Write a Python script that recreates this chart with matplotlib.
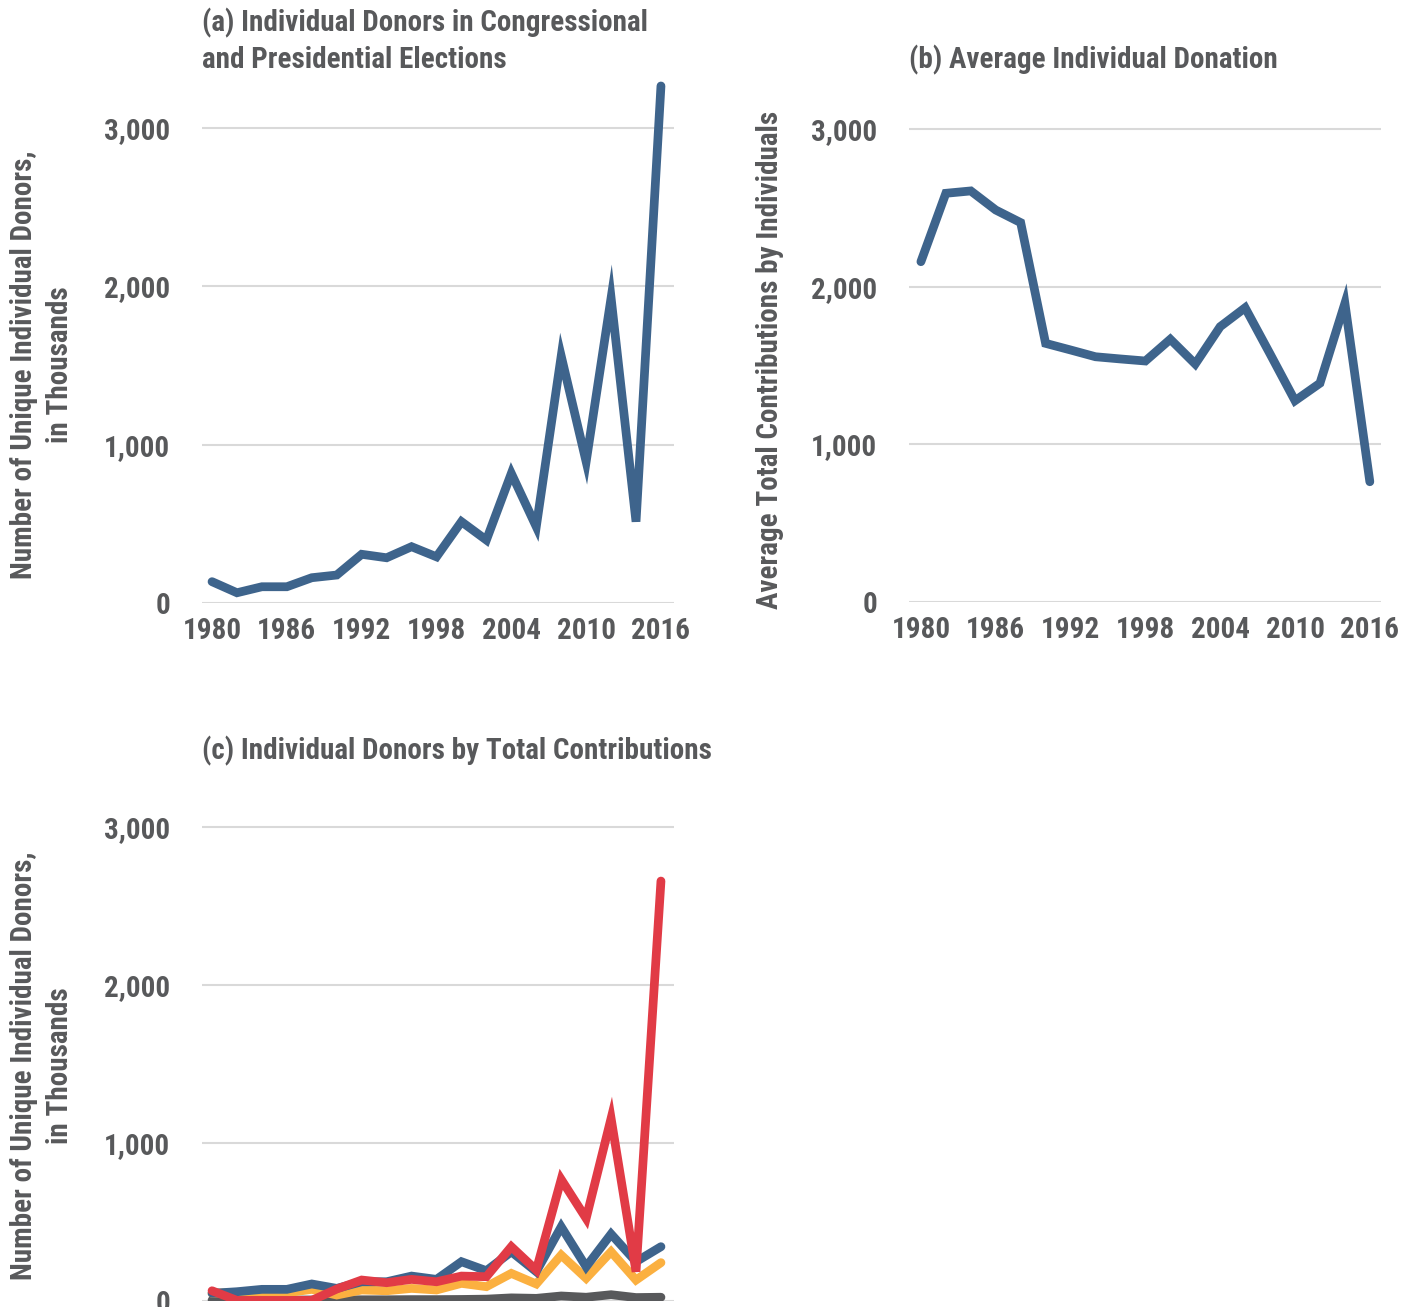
import matplotlib
matplotlib.use("Agg")
import matplotlib.pyplot as plt
from matplotlib import font_manager
from matplotlib.ticker import FuncFormatter

years = list(range(1980, 2017, 2))

# (a) unique individual donors, thousands
donors_total = [135, 65, 103, 103, 160, 177, 308, 286, 356, 292,
                514, 398, 819, 482, 1560, 893, 1927, 514, 3266]

# (b) average total contributions by individuals
avg_donation = [2159, 2593, 2608, 2487, 2407, 1641, 1599, 1556, 1542, 1529,
                1667, 1510, 1747, 1867, 1574, 1277, 1388, 1895, 763]

# (c) donors split by size of total contributions
donors_blue = [47, 57, 72, 72, 106, 78, 120, 120, 156, 135,
               247, 190, 310, 184, 468, 215, 422, 247, 342]
donors_orange = [47, 53, 53, 50, 72, 36, 68, 63, 78, 68,
                 110, 89, 173, 106, 289, 142, 310, 131, 241]
donors_red = [63, 2, 2, 2, 2, 74, 131, 114, 135, 120,
              156, 152, 342, 194, 768, 521, 1154, 184, 2656]
donors_gray = [3, 3, 4, 4, 5, 5, 6, 6, 7, 7,
               8, 10, 18, 15, 30, 22, 38, 20, 22]

xticks = [1980, 1986, 1992, 1998, 2004, 2010, 2016]
yticks = [0, 1000, 2000, 3000]

BLUE = "#3e648c"
ORANGE = "#fbb040"
RED = "#e13b46"
DARK = "#58595b"
TXT = "#58595b"
GRID = "#d9d9d9"

installed = {f.name for f in font_manager.fontManager.ttflist}
font = "DejaVu Sans"
for name in ["Liberation Sans Narrow", "DejaVu Sans Condensed", "Roboto Condensed", "Liberation Sans"]:
    if name in installed:
        font = name
        break
plt.rcParams["font.family"] = [font, "DejaVu Sans"]
plt.rcParams["font.weight"] = "bold"

FS = 21
LW = 6.3

fig = plt.figure(figsize=(14.14, 13.07), dpi=100)

line_kw = dict(lw=LW, solid_capstyle="round", solid_joinstyle="miter")


def style(ax, show_x=True):
    ax.set_xlim(1979.2, 2017.05)
    ax.set_ylim(0, 3350)
    ax.set_yticks(yticks)
    ax.set_xticks(xticks)
    ax.yaxis.set_major_formatter(FuncFormatter(lambda v, p: f"{int(v):,}"))
    ax.grid(axis="y", color=GRID, lw=1.5)
    ax.set_axisbelow(True)
    for s in ax.spines.values():
        s.set_visible(False)
    ax.tick_params(length=0, labelsize=FS, labelcolor=TXT)
    ax.tick_params(axis="x", pad=10, labelbottom=show_x)
    ax.tick_params(axis="y", pad=23)


# panel a
ax1 = fig.add_axes([0.1429, 0.5386, 0.3338, 0.4058])
style(ax1)
ax1.plot(years, donors_total, color=BLUE, clip_on=False, **line_kw)

# panel b
ax2 = fig.add_axes([0.6429, 0.5394, 0.3338, 0.4040])
style(ax2)
ax2.set_xlim(1979.05, 2016.9)
ax2.plot(years, avg_donation, color=BLUE, clip_on=False, **line_kw)

# panel c (bottom of the axes runs off the page, so the lines are clipped at zero)
ax3 = fig.add_axes([0.1429, 0.0048, 0.3338, 0.4050])
style(ax3, show_x=False)
ax3.plot(years, donors_gray, color=DARK, **line_kw)
ax3.plot(years, donors_orange, color=ORANGE, **line_kw)
ax3.plot(years, donors_blue, color=BLUE, **line_kw)
ax3.plot(years, donors_red, color=RED, **line_kw)

title_kw = dict(fontsize=FS, color=TXT, ha="left", va="center", linespacing=1.33)
fig.text(0.1429, 0.9686, "(a) Individual Donors in Congressional\nand Presidential Elections", **title_kw)
fig.text(0.6429, 0.954, "(b) Average Individual Donation", **title_kw)
fig.text(0.1429, 0.4254, "(c) Individual Donors by Total Contributions", **title_kw)

ylab_kw = dict(fontsize=FS, color=TXT, rotation=90, ha="center", va="center", linespacing=1.38)
fig.text(0.0297, 0.7207, "Number of Unique Individual Donors,\nin Thousands", **ylab_kw)
fig.text(0.0297, 0.1844, "Number of Unique Individual Donors,\nin Thousands", **ylab_kw)
fig.text(0.5446, 0.7246, "Average Total Contributions by Individuals", **ylab_kw)

fig.savefig("out.png", dpi=100, facecolor="white")
